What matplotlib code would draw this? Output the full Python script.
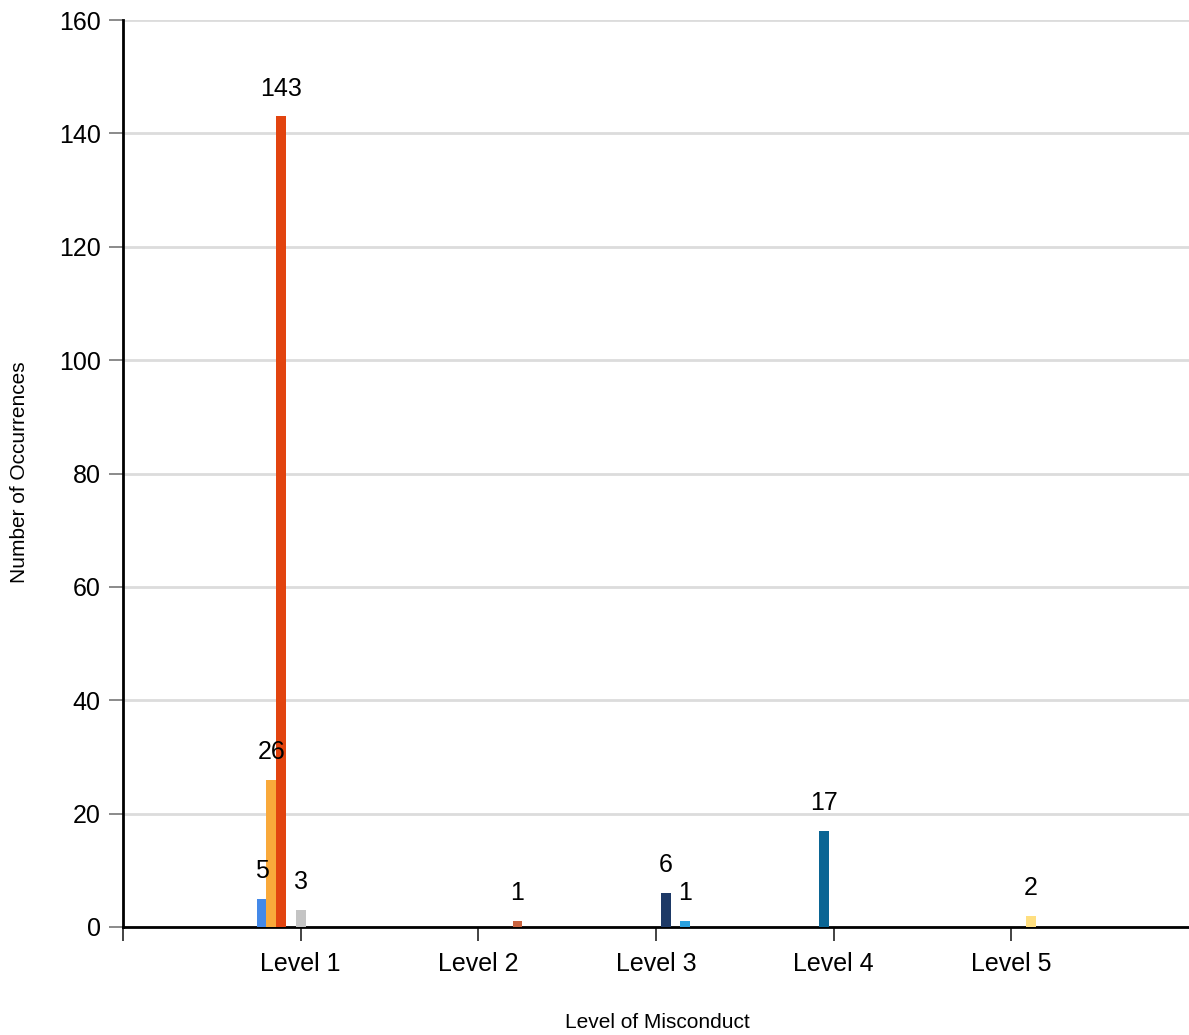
import matplotlib.pyplot as plt
import numpy as np

plt.rcParams['font.family'] = ['Liberation Sans', 'DejaVu Sans']

# Categories along the x axis
levels = ["Level 1", "Level 2", "Level 3", "Level 4", "Level 5"]

# One list per series (order = left-to-right slot inside each group)
series_1 = [5, 0, 0, 0, 0]
series_2 = [26, 0, 0, 0, 0]
series_3 = [143, 0, 0, 0, 0]
series_4 = [0, 0, 0, 17, 0]
series_5 = [3, 0, 0, 0, 0]
series_6 = [0, 0, 6, 0, 0]
series_7 = [0, 0, 0, 0, 2]
series_8 = [0, 0, 1, 0, 0]
series_9 = [0, 1, 0, 0, 0]

all_series = [series_1, series_2, series_3, series_4, series_5,
              series_6, series_7, series_8, series_9]
colors = ['#4489e8', '#f9a93a', '#e2440f', '#0a6594', '#c4c4c4',
          '#1d3966', '#ffdf80', '#2aa1df', '#c9633f']

fig = plt.figure(figsize=(11.89, 10.35), dpi=100)
ax = fig.add_axes([123 / 1189, 1 - 927 / 1035, 1 - 123 / 1189, (927 - 20) / 1035])

x = np.arange(1, len(levels) + 1)
bar_w = 0.055
n = len(all_series)
for i, (vals, col) in enumerate(zip(all_series, colors)):
    offs = (i - (n - 1) / 2) * bar_w
    bars = ax.bar(x + offs, vals, width=bar_w, color=col, zorder=3)
    for b, v in zip(bars, vals):
        if v > 0:
            ax.annotate(str(v), (b.get_x() + b.get_width() / 2, v),
                        xytext=(0, 15), textcoords='offset points',
                        ha='center', va='baseline', fontsize=18, zorder=4)

ax.set_xlim(0, len(levels) + 1)
ax.set_ylim(0, 160)
ax.set_yticks(np.arange(0, 161, 20))
ax.set_xticks(np.arange(0, len(levels) + 1))
ax.set_xticklabels([""] + levels)

ax.grid(axis='y', color='#dcdcdc', linewidth=2, zorder=0)
ax.tick_params(axis='y', length=10, width=1.2, color='#777777', labelsize=18, pad=6)
ax.tick_params(axis='x', length=10, width=1.2, color='#222222', labelsize=18, pad=8)

for side in ['top', 'right']:
    ax.spines[side].set_visible(False)
ax.spines['left'].set_linewidth(2)
ax.spines['bottom'].set_linewidth(2)

fig.text(657 / 1189, 1 - 1022 / 1035, "Level of Misconduct", ha='center', va='center', fontsize=15)
fig.text(20 / 1189, 1 - 472 / 1035, "Number of Occurrences", ha='center', va='center',
         rotation=90, fontsize=15)

fig.savefig("out.png", dpi=100)
